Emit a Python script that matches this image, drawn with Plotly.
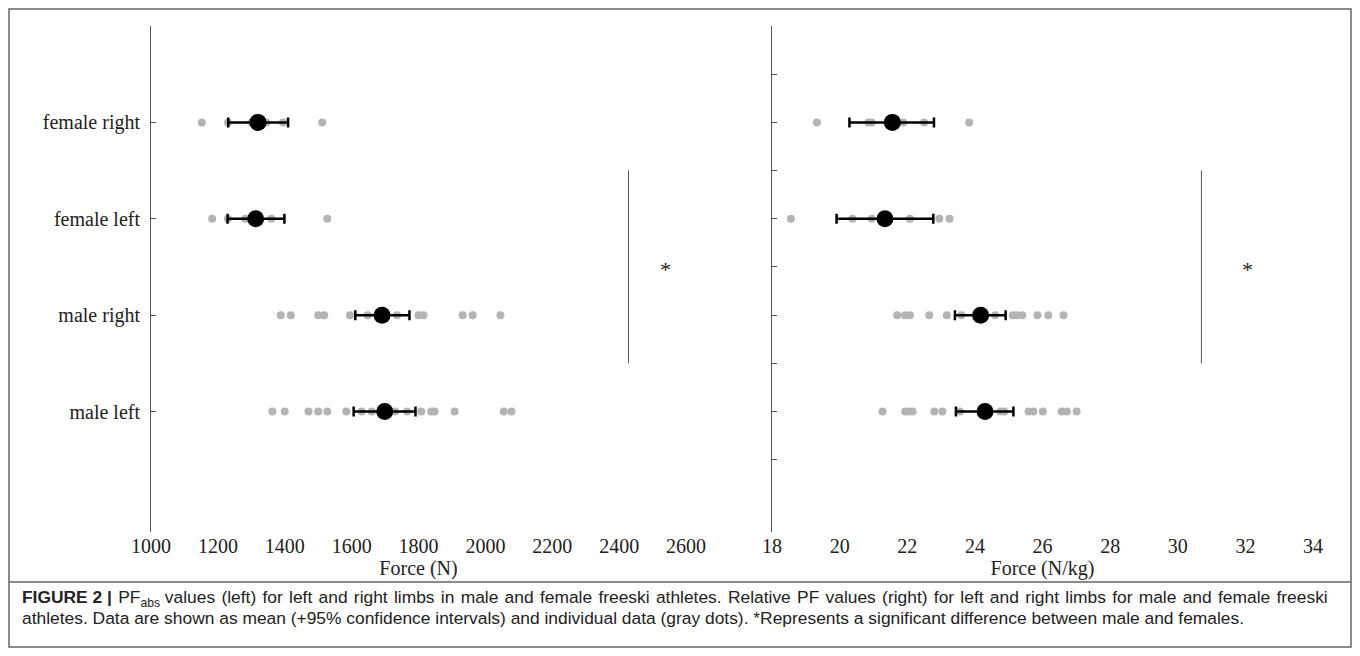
import plotly.graph_objects as go

# page body adds an 8px margin; figure sized so page == window
OFF = 8
W, H = 1344, 640

categories = ["male left", "male right", "female left", "female right"]
cat_pos = [1, 2, 3, 4]

# Absolute peak force (N) individual data
abs_male_left = [1363, 1400, 1471, 1500, 1527, 1584, 1630, 1660, 1730, 1766, 1808, 1838, 1848, 1908, 2055, 2078]
abs_male_right = [1388, 1418, 1500, 1518, 1595, 1648, 1690, 1736, 1800, 1815, 1932, 1962, 2045]
abs_female_left = [1183, 1230, 1282, 1310, 1360, 1527]
abs_female_right = [1152, 1230, 1300, 1345, 1395, 1512]
abs_mean = [1699, 1691, 1313, 1320]
abs_ci_low = [1606, 1611, 1229, 1231]
abs_ci_high = [1791, 1773, 1399, 1410]

# Relative peak force (N/kg) individual data
rel_male_left = [21.27, 21.94, 22.04, 22.16, 22.8, 23.04, 23.56, 24.75, 24.87, 25.59, 25.73, 26.01, 26.57, 26.72, 27.01]
rel_male_right = [21.7, 21.93, 22.08, 22.65, 23.17, 23.6, 24.6, 25.12, 25.24, 25.4, 25.85, 26.17, 26.62]
rel_female_left = [18.56, 20.38, 20.95, 22.08, 22.95, 23.25]
rel_female_right = [19.33, 20.85, 20.95, 21.88, 22.5, 23.83]
rel_mean = [24.3, 24.17, 21.34, 21.56]
rel_ci_low = [23.44, 23.41, 19.91, 20.29]
rel_ci_high = [25.14, 24.91, 22.77, 22.79]

abs_ticks = [1000, 1200, 1400, 1600, 1800, 2000, 2200, 2400, 2600]
rel_ticks = [18, 20, 22, 24, 26, 28, 30, 32, 34]

# significance markers: x of bar, y span, asterisk position
sig_abs_x, sig_abs_ast = 2428, 2540
sig_rel_x, sig_rel_ast = 30.7, 32.05
sig_y0, sig_y1, sig_ast_y = 1.5, 3.5, 2.5

SERIF = "Liberation Serif"
GRAY = "#b4b4b4"


def px(x):
    return (x - OFF) / W


def py(y):
    return 1 - (y - OFF) / H


fig = go.Figure()


def add_panel(groups, mean, lo, hi, xa, ya):
    for pos, vals in zip(cat_pos, groups):
        fig.add_trace(go.Scatter(
            x=vals, y=[pos] * len(vals), mode="markers",
            marker=dict(color=GRAY, size=8, line=dict(width=0)),
            xaxis=xa, yaxis=ya, showlegend=False, hoverinfo="x"))
    fig.add_trace(go.Scatter(
        x=mean, y=cat_pos, mode="markers",
        marker=dict(color="black", size=17),
        error_x=dict(type="data", symmetric=False,
                     array=[h - m for h, m in zip(hi, mean)],
                     arrayminus=[m - l for m, l in zip(mean, lo)],
                     color="black", thickness=2.5, width=5),
        xaxis=xa, yaxis=ya, showlegend=False))


add_panel([abs_male_left, abs_male_right, abs_female_left, abs_female_right],
          abs_mean, abs_ci_low, abs_ci_high, "x", "y")
add_panel([rel_male_left, rel_male_right, rel_female_left, rel_female_right],
          rel_mean, rel_ci_low, rel_ci_high, "x2", "y2")

ydom = [py(532), py(26)]
yrange = [-0.25, 5.0]

axis_font = dict(family=SERIF, size=20, color="#222")

fig.update_layout(
    width=W, height=H,
    margin=dict(l=0, r=0, t=0, b=0, autoexpand=False),
    paper_bgcolor="white", plot_bgcolor="white",
    showlegend=False,
    xaxis=dict(domain=[px(151), px(686)], range=[1000, 2600], automargin=False,
               tickvals=abs_ticks, ticks="", showline=False, showgrid=False,
               zeroline=False, tickfont=axis_font,
               title=dict(text="Force (N)", font=axis_font, standoff=2)),
    yaxis=dict(domain=ydom, range=yrange, tickvals=cat_pos, ticktext=categories,
               ticks="inside", ticklen=5, tickcolor="#555", showline=True,
               linecolor="#555", linewidth=1, showgrid=False, zeroline=False,
               tickfont=axis_font, anchor="x", ticklabelstandoff=6, automargin=False),
    xaxis2=dict(domain=[px(772), px(1313)], range=[18, 34], automargin=False,
                tickvals=rel_ticks, ticks="", showline=False, showgrid=False,
                zeroline=False, tickfont=axis_font, anchor="y2",
                title=dict(text="Force (N/kg)", font=axis_font, standoff=2)),
    yaxis2=dict(domain=ydom, range=yrange, automargin=False,
                tickvals=[0.5, 1, 1.5, 2, 2.5, 3, 3.5, 4, 4.5, 5],
                showticklabels=False, ticks="inside", ticklen=5, tickcolor="#555",
                showline=True, linecolor="#555", linewidth=1, showgrid=False,
                zeroline=False, anchor="x2"),
)

# significance bars and asterisks
fig.add_shape(type="line", xref="x", yref="y", x0=sig_abs_x, x1=sig_abs_x,
              y0=sig_y0, y1=sig_y1, line=dict(color="#555", width=1))
fig.add_shape(type="line", xref="x2", yref="y2", x0=sig_rel_x, x1=sig_rel_x,
              y0=sig_y0, y1=sig_y1, line=dict(color="#555", width=1))
for xa, ya, xv in (("x", "y", sig_abs_ast), ("x2", "y2", sig_rel_ast)):
    fig.add_annotation(x=xv, y=sig_ast_y, xref=xa, yref=ya, text="*",
                       showarrow=False, font=dict(family=SERIF, size=22, color="#222"),
                       yshift=-3)

# outer frame and caption separator
fig.add_shape(type="rect", xref="paper", yref="paper",
              x0=px(9), x1=px(1351), y0=py(647), y1=py(9),
              line=dict(color="#666", width=1.5))
fig.add_shape(type="line", xref="paper", yref="paper",
              x0=px(9), x1=px(1351), y0=py(582), y1=py(582),
              line=dict(color="#666", width=1.5))

cap_font = dict(family="Liberation Sans", size=17.4, color="#222")
HS = " \u200a"  # normal space + hair space to mimic justified first line
line1_words = ("<b>FIGURE 2 |</b> PF<sub>abs</sub> values (left) for left and right limbs in male and female "
               "freeski athletes. Relative PF values (right) for left and right limbs for male and female freeski")
caption_lines = [
    line1_words.replace("</b> ", "</b>" + HS).replace(") ", ")" + HS)
    .replace("s ", "s" + HS).replace("t ", "t" + HS).replace("e ", "e" + HS)
    .replace("r ", "r" + HS).replace("d ", "d" + HS).replace("n ", "n" + HS)
    .replace("F ", "F" + HS).replace("i ", "i" + HS).replace(". ", "." + HS),
    "athletes. Data are shown as mean (+95% confidence intervals) and individual data (gray dots). "
    "*Represents a significant difference between male and females.",
]
for i, line in enumerate(caption_lines):
    fig.add_annotation(x=px(20), y=py(598 + 20 * i), xref="paper", yref="paper",
                       xanchor="left", yanchor="middle", text=line, showarrow=False,
                       font=cap_font, align="left")

fig.write_html("out.html")
